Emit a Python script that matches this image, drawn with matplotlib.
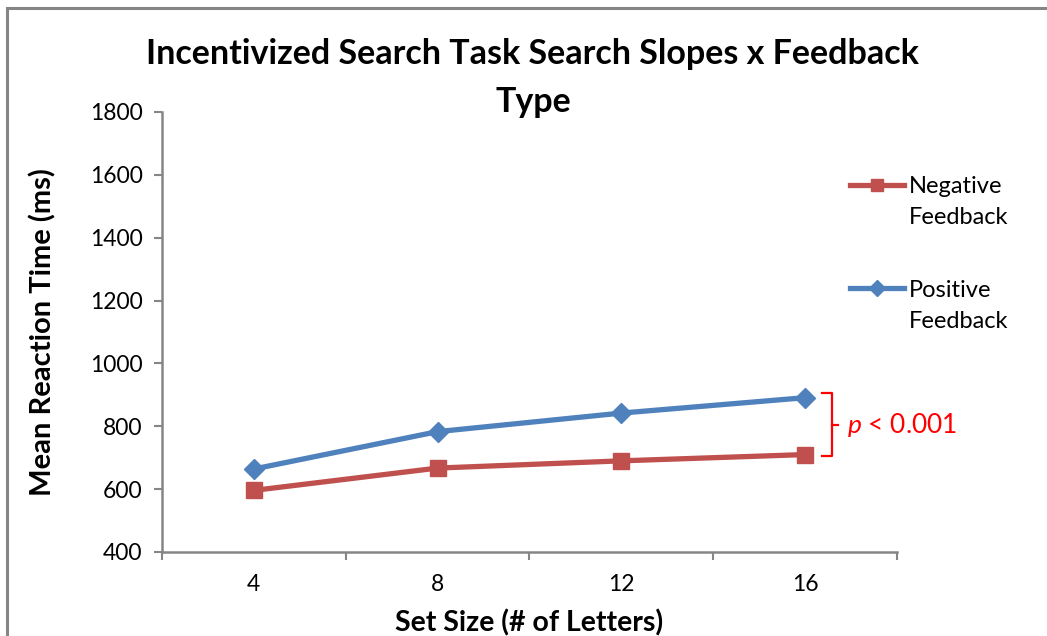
import matplotlib
matplotlib.use('Agg')
import matplotlib.pyplot as plt
from matplotlib.patches import Rectangle

plt.rcParams['font.family'] = ['Lato', 'DejaVu Sans']
plt.rcParams['mathtext.fontset'] = 'custom'
plt.rcParams['mathtext.it'] = 'Lato:italic'
plt.rcParams['mathtext.rm'] = 'Lato'

# 数据
set_sizes = ['4', '8', '12', '16']
negative_rt = [596, 667, 690, 710]
positive_rt = [664, 783, 842, 891]
series_first = ['Negative', 'Positive']
series_second = 'Feedback'

BLUE = '#4F81BD'
RED = '#C0504D'
GRAY = '#868686'
W, H = 1047, 636

fig = plt.figure(figsize=(W / 100, H / 100), dpi=100)
ax = fig.add_axes([0.1547, 0.1321, 0.702, 0.6918])

# 外框
fig.add_artist(Rectangle((7 / W, -0.05), 1.2, 1.05 - 8 / H,
                         transform=fig.transFigure, fill=False,
                         edgecolor=GRAY, linewidth=2.2))

x = list(range(len(set_sizes)))
ax.plot(x, negative_rt, color=RED, lw=3.8, marker='s', ms=11.5,
        label=series_first[0])
ax.plot(x, positive_rt, color=BLUE, lw=3.8, marker='D', ms=10.5,
        label=series_first[1])

ax.set_xlim(-0.5, len(set_sizes) - 0.5)
ax.set_ylim(400, 1800)
ax.set_yticks(range(400, 1801, 200))
ax.set_xticks(x)
ax.set_xticklabels(set_sizes)
ax.set_xticks([i - 0.5 for i in range(len(set_sizes) + 1)], minor=True)
ax.tick_params(axis='x', which='major', length=0, pad=16, labelsize=16.5)
ax.tick_params(axis='x', which='minor', length=6, width=1.5, color=GRAY)
ax.tick_params(axis='y', length=6, width=1.5, color=GRAY, pad=8, labelsize=16.5)

for side in ['top', 'right']:
    ax.spines[side].set_visible(False)
for side in ['left', 'bottom']:
    ax.spines[side].set_color(GRAY)
    ax.spines[side].set_linewidth(1.8)

ax.set_xlabel('Set Size (# of Letters)', fontsize=20.5, fontweight='bold',
              labelpad=10)
ax.set_ylabel('Mean Reaction Time (ms)', fontsize=21, fontweight='bold',
              labelpad=24)
fig.text(0.509, 0.877, 'Incentivized Search Task Search Slopes x Feedback\nType',
         ha='center', va='center', fontsize=24.5, fontweight='bold',
         linespacing=1.62)

# 图例
handles, labels = ax.get_legend_handles_labels()
leg = ax.legend(handles, labels, loc='upper left',
                bbox_to_anchor=(850 / W, 1 - 176 / H),
                bbox_transform=fig.transFigure, frameon=False, fontsize=17,
                handlelength=2.3, handletextpad=0.2, labelspacing=3.5,
                markerscale=0.8, borderaxespad=0, borderpad=0)
fig.canvas.draw()
for t in leg.get_texts():
    bb = t.get_window_extent()
    fig.text(bb.x0 / W, (bb.y0 - 31) / H, series_second, fontsize=17,
             ha='left', va='bottom')

# 显著性括号
trans = ax.get_yaxis_transform()
top = positive_rt[-1] + 15
bot = negative_rt[-1] - 5
mid = (top + bot) / 2
bx0, bx1, bx2 = 0.898, 0.911, 0.92
ax.plot([bx0, bx1, bx1, bx0], [top, top, bot, bot], color='red', lw=1.6,
        transform=trans, clip_on=False)
ax.plot([bx1, bx2], [mid, mid], color='red', lw=1.6, transform=trans,
        clip_on=False)
ax.text(0.932, mid, r'$\it{p}$ < 0.001', color='red', fontsize=19,
        va='center', ha='left', transform=trans)

fig.savefig('out.png', dpi=100)
